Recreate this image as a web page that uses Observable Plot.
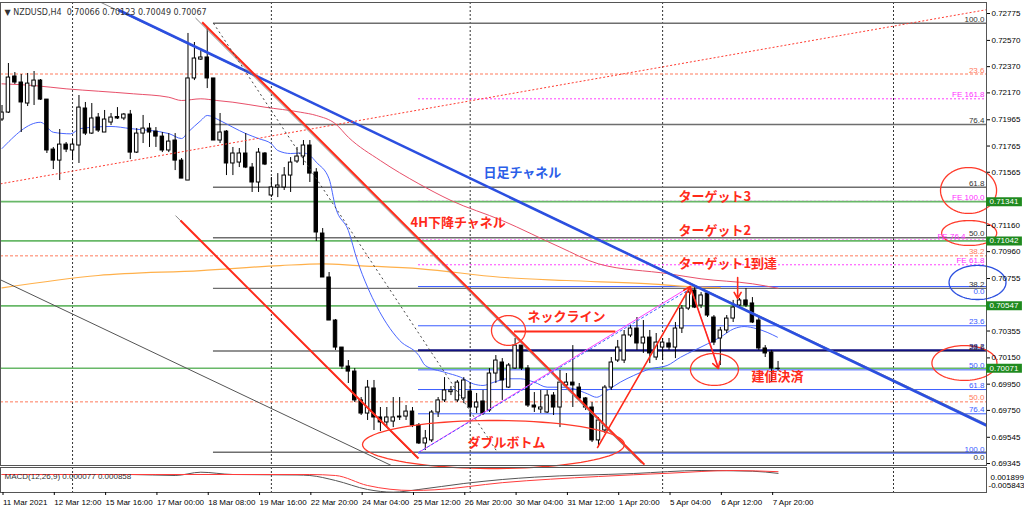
<!DOCTYPE html>
<html><head><meta charset="utf-8">
<script src="https://cdn.jsdelivr.net/npm/d3@7"></script>
<script src="https://cdn.jsdelivr.net/npm/@observablehq/plot@0.6"></script>
<style>
body{margin:0;background:#fff;}
#chart svg{display:block;}
</style>
</head><body><div id="chart"></div>
<script>
// ---------- DATA ----------
const barDomain = [-0.234, 153.5];
const priceDomain = [0.69330, 0.72859];

const open = [0.71967,0.72020,0.72295,0.72249,0.72089,0.72219,0.72264,0.72119,0.71738,0.71654,
0.71776,0.71731,0.71769,0.72051,0.71860,0.71982,0.71868,0.71944,0.71986,0.71975,
0.72005,0.71715,0.71860,0.71898,0.71875,0.71837,0.71731,0.71807,0.71654,0.71502,
0.72280,0.72424,0.72440,0.72280,0.71807,0.71875,0.71632,0.71639,0.71708,0.71601,
0.71487,0.71708,0.71388,0.71449,0.71449,0.71540,0.71647,0.71685,0.71769,0.71563,
0.71098,0.70763,0.70435,0.70229,0.70084,0.70046,0.69826,0.69726,0.69917,0.69696,
0.69658,0.69665,0.69703,0.69703,0.69741,0.69635,0.69498,0.69521,0.69734,0.69826,
0.69889,0.69826,0.69841,0.69894,0.69772,0.69818,0.69749,0.70031,0.70115,0.69924,
0.70069,0.70244,0.70069,0.69787,0.69757,0.69734,0.69863,0.69772,0.69940,0.69962,
0.69924,0.69841,0.69772,0.69521,0.69597,0.69924,0.70130,0.70130,0.70321,0.70374,
0.70260,0.70305,0.70153,0.70229,0.70260,0.70229,0.70374,0.70526,0.70664,0.70549,
0.70641,0.70458,0.70298,0.70359,0.70450,0.70549,0.70588,0.70565,0.70435,0.70222,
0.70191,0.70066];
const high = [0.72074,0.72394,0.72325,0.72310,0.72318,0.72333,0.72272,0.72119,0.71754,0.71891,
0.71792,0.71815,0.72150,0.72097,0.72089,0.72013,0.72036,0.72013,0.72058,0.72013,
0.72036,0.71898,0.71998,0.71937,0.71906,0.71868,0.71860,0.71860,0.71670,0.72623,
0.72554,0.72501,0.72668,0.72280,0.72013,0.71883,0.71754,0.71746,0.71860,0.71632,
0.71746,0.71715,0.71525,0.71555,0.71601,0.71677,0.71754,0.71807,0.71807,0.71593,
0.71136,0.70801,0.70443,0.70229,0.70130,0.70069,0.69848,0.69978,0.69978,0.69772,
0.69772,0.69848,0.69848,0.69787,0.69772,0.69650,0.69597,0.69749,0.69848,0.70000,
0.69932,0.69978,0.70000,0.69962,0.69879,0.69902,0.70069,0.70168,0.70145,0.70107,
0.70298,0.70244,0.70092,0.69886,0.69902,0.69902,0.69886,0.70054,0.70031,0.70244,
0.69955,0.69848,0.69810,0.69696,0.69940,0.70153,0.70283,0.70359,0.70397,0.70458,
0.70435,0.70359,0.70336,0.70298,0.70298,0.70420,0.70549,0.70686,0.70686,0.70648,
0.70648,0.70473,0.70382,0.70473,0.70588,0.70603,0.70679,0.70610,0.70458,0.70244,
0.70207,0.70123];
const low = [0.71952,0.72013,0.72234,0.71868,0.72066,0.72074,0.72112,0.71708,0.71586,0.71502,
0.71715,0.71654,0.71632,0.71845,0.71853,0.71868,0.71868,0.71921,0.71967,0.71959,
0.71662,0.71708,0.71784,0.71754,0.71754,0.71715,0.71715,0.71578,0.71517,0.71502,
0.72264,0.72417,0.72203,0.71807,0.71784,0.71540,0.71540,0.71601,0.71593,0.71411,
0.71411,0.71616,0.71372,0.71372,0.71426,0.71411,0.71632,0.71616,0.71487,0.71037,
0.70763,0.70435,0.70207,0.70062,0.69955,0.69810,0.69711,0.69673,0.69597,0.69589,
0.69612,0.69619,0.69673,0.69673,0.69619,0.69490,0.69444,0.69505,0.69696,0.69810,
0.69863,0.69810,0.69802,0.69696,0.69726,0.69711,0.69734,0.69955,0.69826,0.69917,
0.70062,0.70054,0.69772,0.69734,0.69726,0.69726,0.69711,0.69619,0.69924,0.69772,
0.69826,0.69749,0.69505,0.69467,0.69574,0.69902,0.70115,0.70107,0.70305,0.70207,
0.70184,0.70107,0.70130,0.70130,0.70207,0.70145,0.70336,0.70511,0.70526,0.70526,
0.70458,0.70244,0.70092,0.70336,0.70420,0.70534,0.70534,0.70412,0.70207,0.70153,
0.69962,0.70049];
const close = [0.72020,0.72287,0.72249,0.72097,0.72241,0.72264,0.72119,0.71731,0.71654,0.71776,
0.71738,0.71776,0.72058,0.71860,0.71975,0.71883,0.71967,0.71982,0.71975,0.72005,
0.71715,0.71860,0.71898,0.71868,0.71837,0.71731,0.71799,0.71654,0.71517,0.72280,
0.72432,0.72440,0.72280,0.71807,0.71868,0.71632,0.71708,0.71708,0.71601,0.71487,
0.71715,0.71624,0.71449,0.71464,0.71540,0.71639,0.71685,0.71769,0.71555,0.71106,
0.70763,0.70435,0.70229,0.70084,0.70046,0.69826,0.69726,0.69924,0.69696,0.69658,
0.69696,0.69696,0.69696,0.69741,0.69635,0.69498,0.69536,0.69734,0.69826,0.69902,
0.69902,0.69962,0.69978,0.69772,0.69810,0.69726,0.70031,0.70130,0.69978,0.70092,
0.70244,0.70069,0.69787,0.69772,0.69772,0.69863,0.69772,0.69962,0.69962,0.69940,
0.69841,0.69772,0.69521,0.69673,0.69924,0.70115,0.70229,0.70321,0.70374,0.70260,
0.70305,0.70184,0.70267,0.70267,0.70229,0.70374,0.70526,0.70648,0.70534,0.70626,
0.70473,0.70267,0.70359,0.70450,0.70534,0.70588,0.70549,0.70420,0.70222,0.70184,
0.70069,0.70067];

// moving averages (bar, value)
const blueMaBar = [0,6,8,10.7,12.2,17,20,26,28,29,31,32,34,36,38,40,42,43,45,47,48,49,51,52,54,55.4,57,58.5,60,62,65,66,69,71.5,73.5,75,76.7,78.8,80.8,83,85,87.1,89.2,91.3,92.7,94.4,96.4,98.5,101.1,103.7,105.8,107.9,110,112,114.1,115.7,117.7,119.3,120.9];
const blueMaVal = [0.71746,0.71946,0.71870,0.71858,0.71898,0.71914,0.71898,0.71860,0.71822,0.71870,0.71959,0.71998,0.71959,0.71908,0.71860,0.71822,0.71782,0.71731,0.71708,0.71712,0.71693,0.71642,0.71515,0.71299,0.71121,0.70892,0.70689,0.70536,0.70410,0.70283,0.70168,0.70092,0.70041,0.70003,0.69952,0.69940,0.69965,0.69991,0.69991,0.69965,0.69927,0.69927,0.69914,0.69876,0.69850,0.69902,0.69965,0.70016,0.70067,0.70092,0.70155,0.70207,0.70257,0.70308,0.70372,0.70389,0.70372,0.70345,0.70308];
const pinkMaBar = [0,5,10,15,20.5,26,28,31,33.5,36,41,46.5,49,52,54,59,65,70,78,87,93,104,109,117,121];
const pinkMaVal = [0.72239,0.72226,0.72201,0.72183,0.72163,0.72137,0.72112,0.72125,0.72112,0.72099,0.72061,0.72023,0.71998,0.71934,0.71832,0.71654,0.71477,0.71350,0.71197,0.70994,0.70867,0.70791,0.70753,0.70715,0.70681];
const orangeMaBar = [0,15,31,43.4,50,55.4,65.3,77.7,88,101,109,112];
const orangeMaVal = [0.70684,0.70778,0.70816,0.70854,0.70867,0.70854,0.70829,0.70765,0.70740,0.70715,0.70689,0.70686];

// MACD
const macdBar = [0,10,20,27,31,36,46,48,52,57,61,65,72,78,83,98.5,109,117,121];
const macdVal = [-0.00027,-0.00027,-0.00027,-0.00058,0.00044,-0.00027,-0.00042,-0.00058,-0.00213,-0.00491,-0.00575,-0.00491,-0.00306,-0.00182,-0.00110,0.00004,0.00097,0.00075,0.00008];
const sigBar = [0,48,52,57,64,67.5,78,93,104,114,121];
const sigVal = [-0.00027,-0.00027,-0.00058,-0.00368,-0.00522,-0.00501,-0.00280,-0.00089,0.00013,0.00097,0.00060];
const macdDomain = [-0.005843, 0.001899];

// axis labels
const timeLabels = ["11 Mar 2021","12 Mar 12:00","15 Mar 16:00","17 Mar 00:00","18 Mar 08:00","19 Mar 16:00","22 Mar 20:00","24 Mar 04:00","25 Mar 12:00","26 Mar 20:00","30 Mar 04:00","31 Mar 12:00","1 Apr 20:00","5 Apr 04:00","6 Apr 12:00","7 Apr 20:00"];
const timeBars = [0,8,16,24,32,40,48,56,64,72,80,88,96,104,112,120];
const priceTicks = [0.72775,0.72570,0.72370,0.72170,0.71965,0.71765,0.71565,0.71160,0.70960,0.70755,0.70355,0.70150,0.69950,0.69750,0.69545,0.69345];
const separators = [11,42,73,103,139];

// horizontal levels
const greenPrices = [0.71341,0.71042,0.70547,0.70071];
const grayFibLabels = ["100.0","76.4","61.8","50.0","38.2","23.6","0.0"];
const grayFibPrices = [0.72701,0.71929,0.71451,0.71066,0.70680,0.70203,0.69431];
const grayFibBelow = [false,false,false,false,false,false,true];
const grayFibStart = 32.97;
const blueFibLabels = ["0.0","23.6","38.2","50.0","61.8","76.4","100.0"];
const blueFibPrices = [0.70694,0.70395,0.70209,0.70059,0.69909,0.69724,0.69424];
const blueFibColors = ["#3a5cff","#3a5cff","#101080","#3a5cff","#3a5cff","#3a5cff","#3a5cff"];
const blueFibBelow = [true,false,false,false,false,false,false];
const blueFibStart = 64.94;
const salmonFibLabels = ["23.6","38.2","50.0"];
const salmonFibPrices = [0.72314,0.70928,0.69815];
const feLabels = ["FE 161.8","FE 100.0","FE 76.4","FE 61.8"];
const fePrices = [0.72125,0.71344,0.71049,0.70860];
const feShifted = [false,false,true,false];

// trend lines
const lineX1 = [15.36,18.16,-0.23,-0.23,32.97,30.17,31.21,27.05,27.83,64.94,107.3,64.94];
const lineY1 = [0.72861,0.72802,0.70745,0.71477,0.72701,0.72741,0.72709,0.71235,0.71197,0.69429,0.70694,0.69429];
const lineX2 = [153.5,153.5,60.7,153.5,77.25,99.7,100.17,64.62,64.94,107.3,111.7,106.9];
const lineY2 = [0.69646,0.69635,0.69330,0.72804,0.69431,0.69345,0.69337,0.69391,0.69383,0.70694,0.70077,0.70664];
const lineColor = ["#8a8a8a","#2b4fe0","#555","#ff3b30","#444","#8a8a8a","#ff2a1a","#8a8a8a","#ff2a1a","#ff40ff","#ff40ff","#4060ff"];
const lineWidth = [1,2.6,1,1,1,1,2,1,2,1,1,1];
const lineDash = ["none","none","none","2,2","2,3","none","none","none","none","none","none","3,2"];

// arrows
const arrowX1 = [92.85,107.3,114.7];
const arrowY1 = [0.69467,0.70694,0.70763];
const arrowX2 = [107.3,111.7,114.7];
const arrowY2 = [0.70694,0.70069,0.70603];
const necklineBars = [79.9, 95.7];
const necklinePrice = 0.70351;

// ellipses
const ellCx = [78.97,76.63,111.08,150.7,150.8,152.1,150.06];
const ellCy = [0.70359,0.69490,0.70062,0.71426,0.71102,0.70725,0.70111];
const ellRx = [2.65,20.42,3.74,4.37,4.29,4.44,5.07];
const ellRy = [0.00114,0.00183,0.00122,0.00175,0.00095,0.00130,0.00133];
const ellColor = ["#ff3a2a","#ff3a2a","#ff3a2a","#ff3a2a","#ff3a2a","#2b4fe0","#ff3a2a"];

// annotations
const noteText = ["日足チャネル","4H下降チャネル","ターゲット3","ターゲット2","ターゲット1到達","ネックライン","建値決済","ダブルボトム"];
const noteBar = [75.07,63.69,105.47,105.47,105.47,81.93,116.86,72.58];
const notePrice = [0.71563,0.71182,0.71380,0.71116,0.70867,0.70460,0.70003,0.69500];
const noteColor = ["#2a5ee8","#ff2a1a","#ff2a1a","#ff2a1a","#ff2a1a","#ff2a1a","#ff2a1a","#ff2a1a"];

const headerText = "▼ NZDUSD,H4  0.70066 0.70123 0.70049 0.70067";
const macdText = "MACD(12,26,9) 0.000077 0.000858";

// ---------- BUILD ----------
const candles = open.map((o, i) => ({i, o, h: high[i], l: low[i], c: close[i]}));
const pts = (bars, vals) => bars.map((b, k) => ({b, v: vals[k]}));
const lines = lineX1.map((x1, k) => ({x1, y1: lineY1[k], x2: lineX2[k], y2: lineY2[k], c: lineColor[k], w: lineWidth[k], d: lineDash[k]}));
const dashKinds = Array.from(new Set(lineDash));
const arrows = arrowX1.map((x1, k) => ({x1, y1: arrowY1[k], x2: arrowX2[k], y2: arrowY2[k]}));
const grayFib = grayFibLabels.map((t, k) => ({t, p: grayFibPrices[k], c: "#333", below: grayFibBelow[k]}));
const blueFib = blueFibLabels.map((t, k) => ({t, p: blueFibPrices[k], c: blueFibColors[k], below: blueFibBelow[k]}));
const salmonFib = salmonFibLabels.map((t, k) => ({t, p: salmonFibPrices[k], c: "#ff7a5c", below: false}));
const feFib = feLabels.map((t, k) => ({t, p: fePrices[k], c: "#ff30ff", below: false, shift: feShifted[k]}));
const allLabels = [...salmonFib, ...feFib, ...grayFib, ...blueFib];
const ellPts = [];
ellCx.forEach((cx, k) => {
  for (let j = 0; j <= 90; j++) {
    const t = j / 90 * 2 * Math.PI;
    ellPts.push({id: k, b: cx + ellRx[k] * Math.cos(t), v: ellCy[k] + ellRy[k] * Math.sin(t), c: ellColor[k]});
  }
});
const notes = noteText.map((t, k) => ({t, b: noteBar[k], p: notePrice[k], c: noteColor[k]}));
const xEnd = () => barDomain[1];
const fmt5 = d3.format(".5f");
const BODY = 0.27;

const font = "'Liberation Sans', Arial, sans-serif";

const main = Plot.plot({
  width: 1024, height: 466,
  marginLeft: 0, marginRight: 38, marginTop: 2, marginBottom: 1,
  x: {domain: barDomain, axis: null},
  y: {domain: priceDomain, axis: null},
  style: {fontFamily: font, fontSize: "8px", background: "#fff", overflow: "visible", color: "#000"},
  marks: [
    Plot.ruleX(separators, {stroke: "#333", strokeDasharray: "2,2"}),
    Plot.ruleY(salmonFib, {y: "p", stroke: "#ff7a5c", strokeDasharray: "3,2"}),
    Plot.ruleY(feFib, {y: "p", x1: () => blueFibStart, x2: xEnd, stroke: "#ff40ff", strokeDasharray: "2,2"}),
    Plot.ruleY(greenPrices, {stroke: "#68b868", strokeWidth: 1.6}),
    Plot.ruleY(grayFib, {y: "p", x1: () => grayFibStart, x2: xEnd, stroke: "#6e6e6e", strokeWidth: 1.4}),
    Plot.ruleY(blueFib, {y: "p", x1: () => blueFibStart, x2: xEnd, stroke: "c", strokeWidth: d => d.c === "#101080" ? 2 : 1}),
    Plot.line(pts(orangeMaBar, orangeMaVal), {x: "b", y: "v", stroke: "#ffb04a", strokeWidth: 1.2, curve: "monotone-x"}),
    Plot.line(pts(pinkMaBar, pinkMaVal), {x: "b", y: "v", stroke: "#e8506a", strokeWidth: 1, curve: "monotone-x"}),
    Plot.line(pts(blueMaBar, blueMaVal), {x: "b", y: "v", stroke: "#4a66ff", strokeWidth: 1, curve: "monotone-x"}),
    Plot.ruleX(candles, {x: "i", y1: "l", y2: "h", stroke: "#000", strokeWidth: 1}),
    Plot.rect(candles, {x1: d => d.i - BODY, x2: d => d.i + BODY, y1: "o", y2: "c",
      fill: d => d.c >= d.o ? "#fff" : "#000", stroke: "#000", strokeWidth: 1}),
    ...dashKinds.map(dk => Plot.link(lines.filter(l => l.d === dk), {x1: "x1", y1: "y1", x2: "x2", y2: "y2",
      stroke: "c", strokeWidth: "w", strokeDasharray: dk === "none" ? null : dk, clip: true})),
    Plot.arrow(arrows, {x1: "x1", y1: "y1", x2: "x2", y2: "y2", stroke: "#ff2a1a", strokeWidth: 1.6, headLength: 7}),
    Plot.ruleY([necklinePrice], {x1: () => necklineBars[0], x2: () => necklineBars[1], stroke: "#ff2a1a", strokeWidth: 2}),
    Plot.line(ellPts, {x: "b", y: "v", z: "id", stroke: "c", strokeWidth: 1.3, curve: "linear"}),
    Plot.frame({stroke: "#555"}),
    // level labels (above the line; just below or shifted left where two levels coincide)
    Plot.text(allLabels.filter(d => !d.below && !d.shift), {x: xEnd, y: "p", text: "t", textAnchor: "end", dx: -2, dy: -4, fill: "c"}),
    Plot.text(allLabels.filter(d => d.below), {x: xEnd, y: "p", text: "t", textAnchor: "end", dx: -2, dy: 5, fill: "c"}),
    Plot.text(allLabels.filter(d => d.shift), {x: xEnd, y: "p", text: "t", textAnchor: "end", dx: -21, dy: -4, fill: "c"}),
    // right axis
    Plot.axisY({anchor: "right", ticks: priceTicks, tickFormat: fmt5, tickSize: 3, tickPadding: 2, fontSize: 8, label: null}),
    Plot.ruleY(greenPrices, {x1: xEnd, x2: () => barDomain[1] + 5.6, stroke: "#1f8a1f", strokeWidth: 9}),
    Plot.text(greenPrices, {x: xEnd, y: d => d, text: fmt5, dx: 3, textAnchor: "start", fill: "#fff", fontSize: 8}),
    // annotations
    Plot.text(notes, {x: "b", y: "p", text: "t", fill: "c", textAnchor: "start",
      fontFamily: "'Noto Sans CJK JP', sans-serif", fontWeight: "bold", fontSize: 13}),
    Plot.text([headerText], {frameAnchor: "top-left", text: d => d, dx: 4, dy: 7, fill: "#333", textAnchor: "start", fontFamily: "'DejaVu Sans', sans-serif", fontSize: 8})
  ]
});

const macd = Plot.plot({
  width: 1024, height: 45,
  marginLeft: 0, marginRight: 38, marginTop: 1, marginBottom: 19,
  x: {domain: barDomain, axis: null},
  y: {domain: macdDomain, axis: null},
  style: {fontFamily: font, fontSize: "8px", background: "#fff", overflow: "visible", color: "#000"},
  marks: [
    Plot.ruleX(separators, {stroke: "#333", strokeDasharray: "2,2"}),
    Plot.line(pts(macdBar, macdVal), {x: "b", y: "v", stroke: "#555", strokeWidth: 1, curve: "monotone-x"}),
    Plot.line(pts(sigBar, sigVal), {x: "b", y: "v", stroke: "#ff3b3b", strokeWidth: 1, curve: "monotone-x"}),
    Plot.frame({stroke: "#555"}),
    Plot.axisX({anchor: "bottom", ticks: timeBars, tickFormat: b => timeLabels[timeBars.indexOf(b)],
      textAnchor: "start", tickSize: 3, tickPadding: 4, fontSize: 8, dx: 1, label: null}),
    Plot.text([macdText], {frameAnchor: "top-left", text: d => d, dx: 4, dy: 6, fill: "#333", textAnchor: "start"}),
    Plot.text(["0.001899"], {frameAnchor: "top-right", text: d => d, dx: 4, dy: 7, textAnchor: "start"}),
    Plot.text(["-0.005843"], {frameAnchor: "bottom-right", text: d => d, dx: 2, dy: -5, textAnchor: "start"})
  ]
});

document.getElementById("chart").append(main, macd);
</script>
</body></html>
